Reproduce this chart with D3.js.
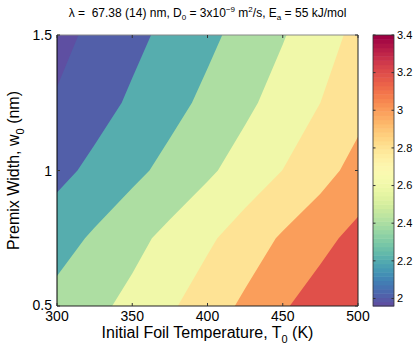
<!DOCTYPE html>
<html>
<head>
<meta charset="utf-8">
<script src="https://cdn.jsdelivr.net/npm/d3@7"></script>
<style>
body { margin: 0; background: #fff; }
text { font-family: "Liberation Sans", Arial, Helvetica, sans-serif; fill: #000; }
</style>
</head>
<body>
<svg id="chart" width="415" height="349"></svg>
<script>
// initial foil temperature T0 (K) = grid columns
var temps = [300, 325, 350, 375, 400, 425, 450, 475, 500];
// premix width w0 (nm) = grid rows
var widths = [0.5, 0.75, 1.0, 1.25, 1.5];
// one row of values per premix width
var row050 = [2.467, 2.553, 2.654, 2.773, 2.902, 3.037, 3.179, 3.292, 3.40];
var row075 = [2.316, 2.429, 2.541, 2.654, 2.767, 2.894, 3.024, 3.143, 3.26];
var row100 = [2.144, 2.247, 2.351, 2.458, 2.568, 2.684, 2.802, 2.925, 3.07];
var row125 = [2.012, 2.123, 2.230, 2.336, 2.445, 2.559, 2.679, 2.800, 2.93];
var row150 = [1.960, 2.030, 2.148, 2.252, 2.356, 2.468, 2.587, 2.718, 2.85];
// contour levels and tick labels
var levels = [2.0, 2.2, 2.4, 2.6, 2.8, 3.0, 3.2];
var xTicks = [300, 350, 400, 450, 500];
var yTicks = [0.5, 1, 1.5];
var cbTicks = [2, 2.2, 2.4, 2.6, 2.8, 3, 3.2, 3.4];

var svg = d3.select('#chart');

var pLeft = 57, pRight = 358, pTop = 35, pBottom = 306;

var x = d3.scaleLinear().domain([300, 500]).range([pLeft, pRight]);
var y = d3.scaleLinear().domain([0.5, 1.5]).range([pBottom, pTop]);

var grid = [row050, row075, row100, row125, row150];
var values = [].concat.apply([], grid);
var zExt = d3.extent(values);

// reversed spectral, like the matlab colormap
function colorOf(v) {
	return d3.interpolateSpectral(1 - (v - zExt[0]) / (zExt[1] - zExt[0]));
}

// d3.contours puts sample i at i + 0.5
var gx = d3.scaleLinear()
	.domain([0.5, temps.length - 0.5])
	.range([x(temps[0]), x(temps[temps.length - 1])]);
var gy = d3.scaleLinear()
	.domain([0.5, widths.length - 0.5])
	.range([y(widths[0]), y(widths[widths.length - 1])]);

var contours = d3.contours()
	.size([temps.length, widths.length])
	.thresholds([zExt[0]].concat(levels))(values);

var pathGen = d3.geoPath(d3.geoTransform({
	point: function(px, py) { this.stream.point(gx(px), gy(py)); }
}));

svg.append('clipPath')
	.attr('id', 'plotclip')
	.append('rect')
	.attr('x', pLeft).attr('y', pTop)
	.attr('width', pRight - pLeft).attr('height', pBottom - pTop);

svg.append('g')
	.attr('clip-path', 'url(#plotclip)')
	.selectAll('path')
	.data(contours)
	.enter()
	.append('path')
	.attr('d', pathGen)
	.style('fill', function(d) { return colorOf(d.value); })
	.style('stroke', 'none');

// axes box
var axes = svg.append('g');
axes.append('line').attr('x1', pLeft).attr('x2', pRight).attr('y1', pTop).attr('y2', pTop)
	.style('stroke', '#888').style('stroke-width', 1);
axes.append('line').attr('x1', pRight).attr('x2', pRight).attr('y1', pTop).attr('y2', pBottom)
	.style('stroke', '#222').style('stroke-width', 1);
axes.append('line').attr('x1', pLeft).attr('x2', pRight).attr('y1', pBottom).attr('y2', pBottom)
	.style('stroke', '#222').style('stroke-width', 1);
axes.append('line').attr('x1', pLeft).attr('x2', pLeft).attr('y1', pTop).attr('y2', pBottom)
	.style('stroke', '#000').style('stroke-width', 1);

// ticks, pointing inward
xTicks.forEach(function(t) {
	axes.append('line').attr('x1', x(t)).attr('x2', x(t)).attr('y1', pBottom).attr('y2', pBottom - 3)
		.style('stroke', '#333');
	axes.append('line').attr('x1', x(t)).attr('x2', x(t)).attr('y1', pTop).attr('y2', pTop + 3)
		.style('stroke', '#333');
	axes.append('text')
		.attr('x', x(t)).attr('y', pBottom + 15)
		.attr('text-anchor', 'middle')
		.style('font-size', '14px')
		.text(t);
});
yTicks.forEach(function(t) {
	axes.append('line').attr('x1', pLeft).attr('x2', pLeft + 3).attr('y1', y(t)).attr('y2', y(t))
		.style('stroke', '#333');
	axes.append('line').attr('x1', pRight).attr('x2', pRight - 3).attr('y1', y(t)).attr('y2', y(t))
		.style('stroke', '#333');
	axes.append('text')
		.attr('x', pLeft - 5).attr('y', y(t))
		.attr('dy', t === 0.5 ? '0.25em' : '0.36em')
		.attr('text-anchor', 'end')
		.style('font-size', '14px')
		.text(t);
});

// axis labels
var xl = svg.append('text')
	.attr('x', (pLeft + pRight) / 2).attr('y', 338)
	.attr('text-anchor', 'middle')
	.style('font-size', '16px');
xl.append('tspan').text('Initial Foil Temperature, T');
xl.append('tspan').attr('dy', 5).style('font-size', '11px').text('0');
xl.append('tspan').attr('dy', -5).text(' (K)');

var yl = svg.append('text')
	.attr('transform', 'translate(19,' + (pTop + pBottom) / 2 + ') rotate(-90)')
	.attr('text-anchor', 'middle')
	.style('font-size', '16px');
yl.append('tspan').text('Premix Width, w');
yl.append('tspan').attr('dy', 5).style('font-size', '11px').text('0');
yl.append('tspan').attr('dy', -5).text(' (nm)');

// title
var title = svg.append('text')
	.attr('x', (pLeft + pRight) / 2).attr('y', 17)
	.attr('text-anchor', 'middle')
	.style('white-space', 'pre')
	.style('font-size', '12px');
title.append('tspan').text('\u03bb =  67.38 (14) nm, D');
title.append('tspan').attr('dy', 3).style('font-size', '8px').text('0');
title.append('tspan').attr('dy', -3).text(' = 3x10');
title.append('tspan').attr('dy', -5).style('font-size', '8px').text('\u22129');
title.append('tspan').attr('dy', 5).text(' m');
title.append('tspan').attr('dy', -5).style('font-size', '8px').text('2');
title.append('tspan').attr('dy', 5).text('/s, E');
title.append('tspan').attr('dy', 3).style('font-size', '8px').text('a');
title.append('tspan').attr('dy', -3).text(' = 55 kJ/mol');

// colorbar
var cbLeft = 373, cbRight = 394;
var cy = d3.scaleLinear().domain(zExt).range([pBottom, pTop]);
var nColors = 64;
var cb = svg.append('g');
cb.selectAll('rect.band')
	.data(d3.range(nColors))
	.enter()
	.append('rect')
	.attr('class', 'band')
	.attr('x', cbLeft)
	.attr('width', cbRight - cbLeft)
	.attr('y', function(k) { return cy(zExt[0] + (k + 1) * (zExt[1] - zExt[0]) / nColors); })
	.attr('height', function(k) {
		return cy(zExt[0] + k * (zExt[1] - zExt[0]) / nColors) - cy(zExt[0] + (k + 1) * (zExt[1] - zExt[0]) / nColors) + 0.5;
	})
	.style('fill', function(k) { return d3.interpolateSpectral(1 - k / (nColors - 1)); });
cb.append('rect')
	.attr('x', cbLeft).attr('y', pTop)
	.attr('width', cbRight - cbLeft).attr('height', pBottom - pTop)
	.style('fill', 'none').style('stroke', '#333').style('stroke-width', 0.8);
cbTicks.forEach(function(t) {
	cb.append('line').attr('x1', cbLeft).attr('x2', cbLeft + 2.5).attr('y1', cy(t)).attr('y2', cy(t))
		.style('stroke', '#333');
	cb.append('line').attr('x1', cbRight).attr('x2', cbRight - 2.5).attr('y1', cy(t)).attr('y2', cy(t))
		.style('stroke', '#333');
	cb.append('text')
		.attr('x', cbRight + 3).attr('y', cy(t))
		.attr('dy', '0.35em')
		.style('font-size', '11px')
		.text(t);
});
</script>
</body>
</html>
